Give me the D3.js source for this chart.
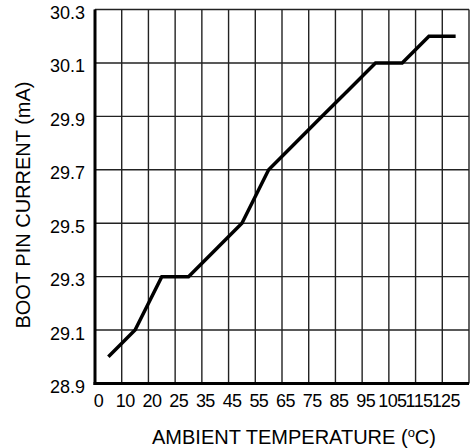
<!DOCTYPE html>
<html><head><meta charset="utf-8">
<script src="https://cdn.jsdelivr.net/npm/d3@7/dist/d3.min.js"></script>
<style>body{margin:0;background:#fff;} svg{display:block;}</style>
</head><body>
<script>
// Data (temperature axis in uniform 10-unit steps; tick labels as printed)
const temps = [5, 15, 25, 35, 45, 55, 65, 75, 85, 95, 105, 115, 125, 135];
const current = [29.0, 29.1, 29.3, 29.3, 29.4, 29.5, 29.7, 29.8, 29.9, 30.0, 30.1, 30.1, 30.2, 30.2];
const xTickVals = [0, 10, 20, 30, 40, 50, 60, 70, 80, 90, 100, 110, 120, 130];
const xTickLabels = ["0", "10", "20", "25", "35", "45", "55", "65", "75", "85", "95", "105", "115", "125"];
const yTicks = [28.9, 29.1, 29.3, 29.5, 29.7, 29.9, 30.1, 30.3];

const W = 470, H = 448;
const m = {left: 95, right: 1, top: 9.5, bottom: 64.5};
const svg = d3.select("body").append("svg").attr("width", W).attr("height", H);
const x = d3.scaleLinear().domain([0, 140]).range([m.left, W - m.right]);
const y = d3.scaleLinear().domain([28.9, 30.3]).range([H - m.bottom, m.top]);
const font = "'Liberation Sans', Arial, sans-serif";

// grid
const g = svg.append("g");
g.selectAll("line.v").data(d3.range(0, 141, 10)).join("line")
  .attr("x1", d => x(d)).attr("x2", d => x(d))
  .attr("y1", y(30.3)).attr("y2", y(28.9))
  .attr("stroke", "#222").attr("stroke-width", 1.4);
g.selectAll("line.h").data(yTicks).join("line")
  .attr("x1", x(0)).attr("x2", x(140))
  .attr("y1", d => y(d)).attr("y2", d => y(d))
  .attr("stroke", "#222").attr("stroke-width", 1.4);

// axes
const xAxis = d3.axisBottom(x).tickValues(xTickVals).tickSize(0).tickPadding(11)
  .tickFormat((d, i) => xTickLabels[i]);
const xa = svg.append("g").attr("transform", `translate(0,${y(28.9)})`).call(xAxis);
xa.select(".domain").remove();
xa.selectAll("text").attr("font-family", font).attr("font-size", 18).attr("fill", "#000")
  .attr("letter-spacing", "-0.6px").attr("dx", 3);

const yAxis = d3.axisLeft(y).tickValues(yTicks).tickSize(0).tickPadding(10)
  .tickFormat(d3.format(".1f"));
const ya = svg.append("g").attr("transform", `translate(${x(0)},0)`).call(yAxis);
ya.select(".domain").remove();
ya.selectAll("text").attr("font-family", font).attr("font-size", 18).attr("fill", "#000")
  .attr("dy", "0.5em");

// axis lines (left, bottom)
svg.append("line").attr("x1", x(0)).attr("x2", x(0)).attr("y1", y(30.3)).attr("y2", y(28.9) + 1.5)
  .attr("stroke", "#000").attr("stroke-width", 3);
svg.append("line").attr("x1", x(0) - 1.5).attr("x2", x(140)).attr("y1", y(28.9)).attr("y2", y(28.9))
  .attr("stroke", "#000").attr("stroke-width", 3);

// curve
const line = d3.line().x((d, i) => x(temps[i])).y(d => y(d));
svg.append("path").datum(current).attr("d", line)
  .attr("fill", "none").attr("stroke", "#000").attr("stroke-width", 3.5)
  .attr("stroke-linejoin", "miter");

// titles
svg.append("text").attr("x", 294).attr("y", 444).attr("text-anchor", "middle")
  .attr("font-family", font).attr("font-size", 20).attr("fill", "#000")
  .html('AMBIENT TEMPERATURE (<tspan font-size="13" dy="-7">o</tspan><tspan dy="7">C)</tspan>');
svg.append("text").attr("transform", "translate(30,205) rotate(-90)").attr("text-anchor", "middle")
  .attr("font-family", font).attr("font-size", 20).attr("fill", "#000")
  .text("BOOT PIN CURRENT (mA)");
</script>
</body></html>
